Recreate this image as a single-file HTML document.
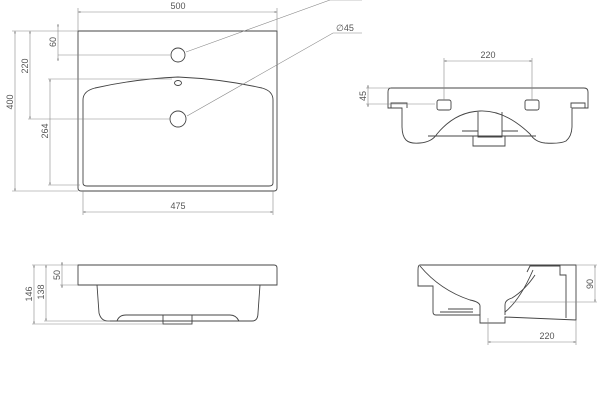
<!DOCTYPE html>
<html><head><meta charset="utf-8"><style>
html,body{margin:0;padding:0;background:#fff;}
svg{display:block;}
text{font-family:"Liberation Sans",sans-serif;font-size:9px;fill:#555;}
.o{fill:none;stroke:#444;stroke-width:0.9;}
.d{fill:none;stroke:#888;stroke-width:0.6;}
</style></head><body>
<svg width="600" height="400" viewBox="0 0 600 400" xmlns="http://www.w3.org/2000/svg">
<defs>
<marker id="a" viewBox="0 0 10 10" refX="10" refY="5" markerWidth="6" markerHeight="4" orient="auto-start-reverse"><path d="M0,2 L10,5 L0,8 z" fill="#666"/></marker>
</defs>
<!-- Top view -->
<path class="o" d="M78,31 H277 V188 Q277,191 274,191 H81 Q78,191 78,188 Z"/>
<path class="o" d="M83,100 Q83,91 95,88 Q135,79 178,77 Q222,79 262,88 Q273,91 273,100 V183 Q273,186 269,186 H87 Q83,186 83,183 Z"/>
<circle class="o" cx="178" cy="55" r="7"/>
<circle class="o" cx="178" cy="119" r="8"/>
<ellipse class="o" cx="178" cy="83" rx="3.5" ry="2.5"/>
<!-- 500 -->
<line class="d" x1="78" y1="8" x2="78" y2="31"/><line class="d" x1="277" y1="8" x2="277" y2="31"/>
<line class="d" x1="78" y1="12" x2="277" y2="12" marker-start="url(#a)" marker-end="url(#a)"/>
<text x="178" y="9" text-anchor="middle">500</text>
<!-- leaders -->
<polyline class="d" points="186,52 330,0 362,0"/>
<polyline class="d" points="187,116 333,33 362,33"/>
<text x="336" y="31">∅45</text>
<!-- 400 -->
<line class="d" x1="12" y1="31" x2="78" y2="31"/><line class="d" x1="12" y1="191" x2="78" y2="191"/>
<line class="d" x1="15" y1="31" x2="15" y2="191" marker-start="url(#a)" marker-end="url(#a)"/>
<text transform="translate(13,102) rotate(-90)" text-anchor="middle">400</text>
<!-- 220 -->
<line class="d" x1="30" y1="31" x2="30" y2="119" marker-start="url(#a)" marker-end="url(#a)"/>
<line class="d" x1="28" y1="119" x2="170" y2="119"/>
<text transform="translate(28,66) rotate(-90)" text-anchor="middle">220</text>
<!-- 60 -->
<line class="d" x1="58" y1="24" x2="58" y2="61" marker-start="url(#a)" marker-end="url(#a)"/>
<line class="d" x1="58" y1="55" x2="170" y2="55"/>
<text transform="translate(56,42) rotate(-90)" text-anchor="middle">60</text>
<!-- 264 -->
<line class="d" x1="50" y1="79" x2="50" y2="185" marker-start="url(#a)" marker-end="url(#a)"/>
<line class="d" x1="48" y1="79" x2="172" y2="79"/><line class="d" x1="48" y1="185" x2="80" y2="185"/>
<text transform="translate(48,131) rotate(-90)" text-anchor="middle">264</text>
<!-- 475 -->
<line class="d" x1="83" y1="191" x2="83" y2="215"/><line class="d" x1="273" y1="191" x2="273" y2="215"/>
<line class="d" x1="83" y1="212" x2="273" y2="212" marker-start="url(#a)" marker-end="url(#a)"/>
<text x="178" y="209" text-anchor="middle">475</text>

<!-- Right top: front view -->
<path class="o" d="M391,88 H584 Q588,88 588,92 V108 H572 V126 Q572,136 566,141 Q560,144 545,143 Q535,142 530,134 Q505,110 480,111 Q455,112 437,134 Q432,142 420,143 Q410,144 406,140 Q402,136 402,126 V108 H388 V92 Q388,88 391,88 Z"/>
<path class="o" d="M391,108 V103 H407 V108"/>
<path class="o" d="M585,108 V103 H571 V108"/>
<rect class="o" x="437" y="100" width="14" height="10" rx="2"/>
<rect class="o" x="525" y="100" width="14" height="10" rx="2"/>
<path class="o" d="M428,136 H536"/>
<path class="o" d="M478,112 V137 H502 V112"/>
<path class="o" d="M473,136 V146 H505 V136"/>
<path class="o" d="M462,131 H478 M502,131 H518"/>
<line class="d" x1="444" y1="58" x2="444" y2="100"/><line class="d" x1="532" y1="58" x2="532" y2="100"/>
<line class="d" x1="444" y1="61" x2="532" y2="61" marker-start="url(#a)" marker-end="url(#a)"/>
<text x="488" y="58" text-anchor="middle">220</text>
<line class="d" x1="366" y1="88" x2="391" y2="88"/><line class="d" x1="366" y1="104" x2="435" y2="104"/>
<line class="d" x1="368" y1="85" x2="368" y2="107" marker-start="url(#a)" marker-end="url(#a)"/>
<text transform="translate(366,96) rotate(-90)" text-anchor="middle">45</text>

<!-- Bottom-left side view -->
<path class="o" d="M78,265 H274 Q277,265 277,268 V285 H78 Z"/>
<path class="o" d="M97,285 L99,313 Q101,321 108,321 H252 Q258,321 258,313 L260,285"/>
<path class="o" d="M117,321 Q119,315 126,315 H230 Q236,315 239,321"/>
<rect class="o" x="163" y="315" width="29" height="9"/>
<line class="d" x1="32" y1="265" x2="78" y2="265"/>
<line class="d" x1="32" y1="324" x2="163" y2="324"/>
<line class="d" x1="44" y1="321" x2="110" y2="321"/>
<line class="d" x1="60" y1="285" x2="78" y2="285"/>
<line class="d" x1="34" y1="265" x2="34" y2="324" marker-start="url(#a)" marker-end="url(#a)"/>
<line class="d" x1="46" y1="265" x2="46" y2="321" marker-start="url(#a)" marker-end="url(#a)"/>
<line class="d" x1="62" y1="262" x2="62" y2="288" marker-start="url(#a)" marker-end="url(#a)"/>
<text transform="translate(32,294) rotate(-90)" text-anchor="middle">146</text>
<text transform="translate(44,292) rotate(-90)" text-anchor="middle">138</text>
<text transform="translate(60,275) rotate(-90)" text-anchor="middle">50</text>

<!-- Bottom-right section -->
<path class="o" d="M420,265 H576 V320 L505,317 V323 H480 V315 H436 Q433,315 433,312 V286 H418 V270 Q418,265 420,265 Z"/>
<path class="o" d="M420,266 Q440,290 470,300 Q480,302 480,306 V315"/>
<path class="o" d="M505,315 V305 Q505,300 512,298 Q525,290 535,275"/>
<path class="o" d="M527,272 L530,266 H560 V275 L566,275 V318"/>
<path class="o" d="M533,270 Q520,300 505,312"/>
<path class="o" d="M440,312 H473 M448,309 H473"/>
<line class="d" x1="576" y1="265" x2="597" y2="265"/><line class="d" x1="510" y1="302" x2="597" y2="302"/>
<line class="d" x1="595" y1="265" x2="595" y2="302" marker-start="url(#a)" marker-end="url(#a)"/>
<text transform="translate(593,284) rotate(-90)" text-anchor="middle">90</text>
<line class="d" x1="488" y1="318" x2="488" y2="345"/><line class="d" x1="576" y1="320" x2="576" y2="345"/>
<line class="d" x1="488" y1="342" x2="576" y2="342" marker-start="url(#a)" marker-end="url(#a)"/>
<text x="547" y="339" text-anchor="middle">220</text>
</svg>
</body></html>
